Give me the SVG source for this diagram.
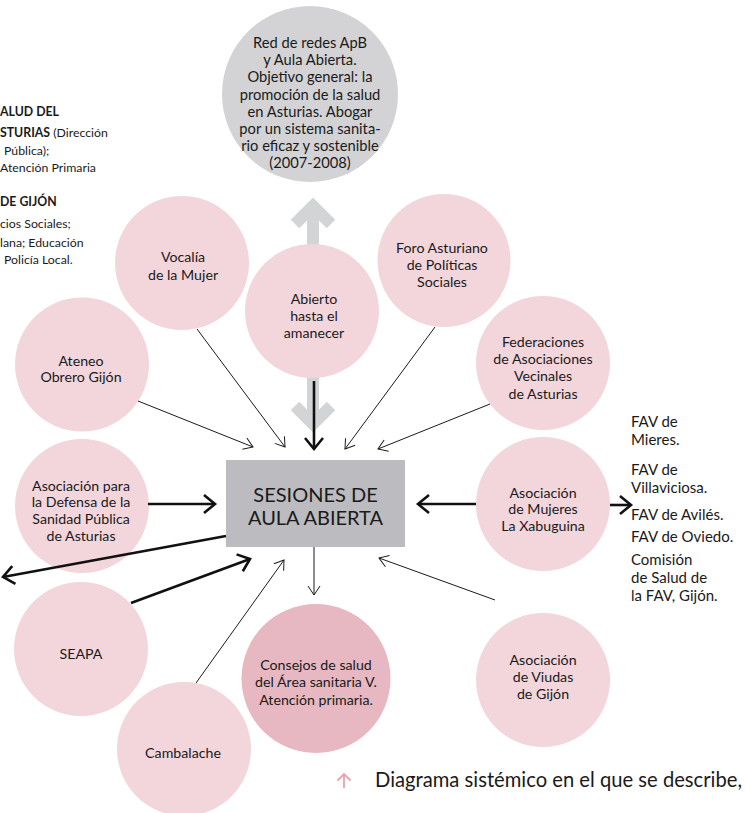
<svg xmlns="http://www.w3.org/2000/svg" width="745" height="813" viewBox="0 0 745 813">
<style>
text{font-family:Lato,"Open Sans","Liberation Sans",sans-serif;fill:#1a1a1a}
.lbl{font-size:14.2px;text-anchor:middle}
.top{font-size:14.7px;text-anchor:middle}
.side{font-size:12.3px}
.fav{font-size:15px}
.node{fill:#f2d6dc}
.thin{stroke:#1a1a1a;stroke-width:1;fill:none}
.thick{stroke:#111;stroke-width:2.6;fill:none}
.garrow{stroke:#d3d4d6;stroke-width:12;fill:none;stroke-linejoin:miter}
</style>
<defs>
<marker id="ah" markerUnits="userSpaceOnUse" markerWidth="20" markerHeight="20" refX="0" refY="0" viewBox="-12 -10 14 20" orient="auto">
<path d="M-9,-6 L0,0 L-9,6" fill="none" stroke="#1a1a1a" stroke-width="1"/>
</marker>
<marker id="ahb" markerUnits="userSpaceOnUse" markerWidth="24" markerHeight="24" refX="0" refY="0" viewBox="-14 -12 17 24" orient="auto">
<path d="M-11,-9 L0,0 L-11,9" fill="none" stroke="#111" stroke-width="2.6"/>
</marker>
</defs>
<rect width="745" height="813" fill="#ffffff"/>

<g id="side-text" class="side">
<text x="0" y="116"><tspan font-weight="bold">ALUD DEL</tspan></text>
<text x="0" y="137"><tspan font-weight="bold">STURIAS</tspan> (Dirección</text>
<text x="4" y="155">Pública);</text>
<text x="0" y="172">Atención Primaria</text>
<text x="0" y="206"><tspan font-weight="bold">DE GIJÓN</tspan></text>
<text x="0" y="228">cios Sociales;</text>
<text x="0" y="247">lana; Educación</text>
<text x="4" y="264">Policía Local.</text>
</g>

<g id="gray-arrows">
<path class="garrow" d="M313,246 V207 M295,224 L313,206 L331,224"/>
<path class="garrow" d="M313,376 V418 M295,406 L313,424 L331,406"/>
</g>

<g id="n-red">
<circle cx="310" cy="94" r="88" fill="#d3d3d5"/>
<text class="top" x="310" y="48">Red de redes ApB</text>
<text class="top" x="310" y="65.2">y Aula Abierta.</text>
<text class="top" x="310" y="82.4">Objetivo general: la</text>
<text class="top" x="310" y="99.6">promoción de la salud</text>
<text class="top" x="310" y="116.8">en Asturias. Abogar</text>
<text class="top" x="310" y="134">por un sistema sanita-</text>
<text class="top" x="310" y="151.2">rio eficaz y sostenible</text>
<text class="top" x="310" y="168.4">(2007-2008)</text>
</g>

<g id="n-vocalia">
<circle class="node" cx="182" cy="263" r="67"/>
<text class="lbl" x="183" y="262">Vocalía</text>
<text class="lbl" x="183" y="279.5">de la Mujer</text>
</g>

<g id="n-abierto">
<circle class="node" cx="312" cy="311" r="67"/>
<text class="lbl" x="314" y="303.5">Abierto</text>
<text class="lbl" x="314" y="320.5">hasta el</text>
<text class="lbl" x="314" y="337.5">amanecer</text>
</g>

<g id="n-foro">
<circle class="node" cx="444" cy="260.5" r="66.5"/>
<text class="lbl" x="442" y="252.5">Foro Asturiano</text>
<text class="lbl" x="442" y="270">de Políticas</text>
<text class="lbl" x="442" y="287">Sociales</text>
</g>

<g id="n-ateneo">
<circle class="node" cx="82" cy="364.5" r="67"/>
<text class="lbl" x="81" y="365.5">Ateneo</text>
<text class="lbl" x="81" y="382">Obrero Gijón</text>
</g>

<g id="n-federaciones">
<circle class="node" cx="543" cy="363" r="67"/>
<text class="lbl" x="543" y="346.5">Federaciones</text>
<text class="lbl" x="543" y="364">de Asociaciones</text>
<text class="lbl" x="543" y="381">Vecinales</text>
<text class="lbl" x="543" y="398.5">de Asturias</text>
</g>

<g id="n-defensa">
<circle class="node" cx="82" cy="506" r="67"/>
<text class="lbl" x="81" y="490.5">Asociación para</text>
<text class="lbl" x="81" y="507">la Defensa de la</text>
<text class="lbl" x="81" y="524">Sanidad Pública</text>
<text class="lbl" x="81" y="541">de Asturias</text>
</g>

<g id="n-xabuguina">
<circle class="node" cx="543" cy="504" r="67"/>
<text class="lbl" x="543" y="497.5">Asociación</text>
<text class="lbl" x="543" y="514">de Mujeres</text>
<text class="lbl" x="543" y="531">La Xabuguina</text>
</g>

<g id="n-seapa">
<circle class="node" cx="81" cy="649" r="67"/>
<text class="lbl" x="81" y="659">SEAPA</text>
</g>

<g id="n-viudas">
<circle class="node" cx="543" cy="680" r="67"/>
<text class="lbl" x="543" y="665">Asociación</text>
<text class="lbl" x="543" y="682">de Viudas</text>
<text class="lbl" x="543" y="699">de Gijón</text>
</g>

<g id="n-cambalache">
<circle class="node" cx="184" cy="749" r="67"/>
<text class="lbl" x="183" y="757.5">Cambalache</text>
</g>

<g id="n-consejos">
<circle cx="316" cy="678.5" r="74.5" fill="#e7b8c1"/>
<text class="lbl" x="316" y="669.5">Consejos de salud</text>
<text class="lbl" x="316" y="687">del Área sanitaria V.</text>
<text class="lbl" x="316" y="704.5">Atención primaria.</text>
</g>

<g id="n-sesiones">
<rect x="226" y="460" width="179" height="87" fill="#bcbcc0"/>
<text x="315.5" y="501.5" font-size="20" text-anchor="middle">SESIONES DE</text>
<text x="315.5" y="524.5" font-size="20" text-anchor="middle">AULA ABIERTA</text>
</g>

<g id="n-fav" class="fav">
<text x="631" y="427">FAV de</text>
<text x="631" y="445">Mieres.</text>
<text x="631" y="475">FAV de</text>
<text x="631" y="493">Villaviciosa.</text>
<text x="631" y="520">FAV de Avilés.</text>
<text x="631" y="542">FAV de Oviedo.</text>
<text x="631" y="565">Comisión</text>
<text x="631" y="583">de Salud de</text>
<text x="631" y="601">la FAV, Gijón.</text>
</g>

<g id="connectors">
<line class="thin" x1="138" y1="401" x2="253" y2="447" marker-end="url(#ah)"/>
<line class="thin" x1="197" y1="329" x2="285" y2="447" marker-end="url(#ah)"/>
<line class="thick" x1="314" y1="381" x2="314" y2="449" marker-end="url(#ahb)"/>
<line class="thin" x1="435" y1="327" x2="345" y2="449" marker-end="url(#ah)"/>
<line class="thin" x1="490" y1="404" x2="378" y2="449" marker-end="url(#ah)"/>
<line class="thick" x1="476" y1="504" x2="418" y2="504" marker-end="url(#ahb)"/>
<line class="thick" x1="610" y1="505" x2="631" y2="505" marker-end="url(#ahb)"/>
<line class="thick" x1="148" y1="504" x2="215" y2="504" marker-end="url(#ahb)"/>
<line class="thick" x1="226" y1="536" x2="3" y2="577" marker-end="url(#ahb)"/>
<line class="thick" x1="131" y1="603" x2="250" y2="559" marker-end="url(#ahb)"/>
<line class="thin" x1="196" y1="683" x2="284" y2="560" marker-end="url(#ah)"/>
<line class="thin" x1="314" y1="547" x2="314" y2="595" marker-end="url(#ah)"/>
<line class="thin" x1="495" y1="600" x2="379" y2="558" marker-end="url(#ah)"/>
</g>

<g id="caption">
<path d="M344,788 V774 M337.5,780.5 L344,774 L350.5,780.5" fill="none" stroke="#e8a3ae" stroke-width="1.8"/>
<text x="375" y="787" font-size="20.2" fill="#2a2a2a">Diagrama sistémico en el que se describe,</text>
</g>
</svg>
